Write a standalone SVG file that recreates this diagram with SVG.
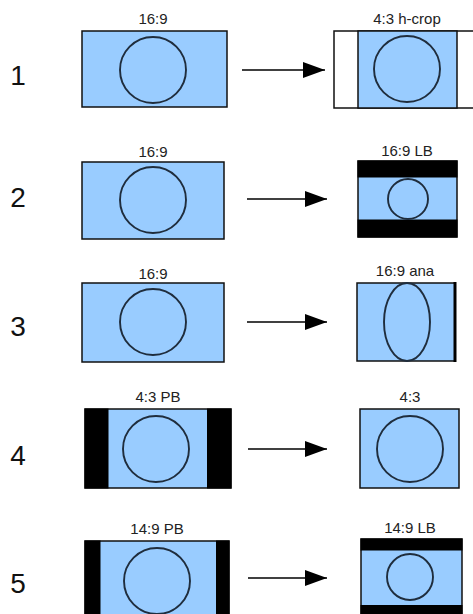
<svg xmlns="http://www.w3.org/2000/svg" width="473" height="614" viewBox="0 0 473 614">
<defs>
<style>
.bg{fill:#fff}
.blue{fill:#99ccff;stroke:#111;stroke-width:1.5}
.white{fill:#fff;stroke:#111;stroke-width:1.5}
.bar{fill:#000}
.circ{fill:none;stroke:#1f2d3d;stroke-width:1.9}
.lbl{font-family:"Liberation Sans",Arial,sans-serif;font-size:15px;fill:#222;text-anchor:middle}
.num{font-family:"Liberation Sans",Arial,sans-serif;font-size:28px;fill:#111;text-anchor:middle}
.conn{stroke:#000;stroke-width:1.6;fill:none;marker-end:url(#ah)}
</style>
<marker id="ah" markerUnits="userSpaceOnUse" markerWidth="24" markerHeight="16" refX="22" refY="8" orient="auto">
<path d="M0,0 L22,8 L0,16 Z" fill="#000"/>
</marker>
</defs>
<rect class="bg" x="0" y="0" width="473" height="614"/>

<g id="numbers">
<text class="num" x="18" y="85">1</text>
<text class="num" x="18" y="207">2</text>
<text class="num" x="18" y="336">3</text>
<text class="num" x="18" y="465">4</text>
<text class="num" x="18" y="593">5</text>
</g>

<g id="r1-src">
<text class="lbl" x="153" y="24">16:9</text>
<rect class="blue" x="82" y="31" width="145" height="76"/>
<circle class="circ" cx="153" cy="70" r="33"/>
</g>
<g id="r1-dst">
<text class="lbl" x="407" y="24">4:3 h-crop</text>
<rect class="white" x="334" y="31" width="150" height="77"/>
<rect class="blue" x="358" y="31" width="99" height="77"/>
<circle class="circ" cx="407" cy="69" r="33"/>
</g>

<g id="r2-src">
<text class="lbl" x="153" y="157">16:9</text>
<rect class="blue" x="82" y="162" width="142" height="77"/>
<circle class="circ" cx="153" cy="200" r="33"/>
</g>
<g id="r2-dst">
<text class="lbl" x="407" y="156">16:9 LB</text>
<rect class="blue" x="358" y="161" width="99" height="76"/>
<rect class="bar" x="357.5" y="160.5" width="100" height="17"/>
<rect class="bar" x="357.5" y="219.5" width="100" height="18"/>
<circle class="circ" cx="408" cy="199" r="20"/>
</g>

<g id="r3-src">
<text class="lbl" x="153" y="279">16:9</text>
<rect class="blue" x="82" y="283" width="142" height="79"/>
<circle class="circ" cx="153" cy="322" r="33"/>
</g>
<g id="r3-dst">
<text class="lbl" x="405" y="276">16:9 ana</text>
<rect class="blue" x="357" y="283" width="98" height="78"/>
<line x1="455" y1="282" x2="455" y2="362" stroke="#000" stroke-width="3"/>
<ellipse class="circ" cx="407" cy="322" rx="23" ry="39"/>
</g>

<g id="r4-src">
<text class="lbl" x="158" y="402">4:3 PB</text>
<rect class="blue" x="85" y="409" width="146" height="79"/>
<rect class="bar" x="84.5" y="408.5" width="24" height="80"/>
<rect class="bar" x="207" y="408.5" width="24.5" height="80"/>
<circle class="circ" cx="156" cy="449" r="33"/>
</g>
<g id="r4-dst">
<text class="lbl" x="410" y="402">4:3</text>
<rect class="blue" x="360" y="409" width="99" height="79"/>
<circle class="circ" cx="410" cy="449" r="33"/>
</g>

<g id="r5-src">
<text class="lbl" x="157" y="534">14:9 PB</text>
<rect class="blue" x="85" y="541" width="144" height="80"/>
<rect class="bar" x="84.5" y="540.5" width="16" height="80"/>
<rect class="bar" x="216" y="540.5" width="13.5" height="80"/>
<circle class="circ" cx="157" cy="581" r="33"/>
</g>
<g id="r5-dst">
<text class="lbl" x="410" y="533">14:9 LB</text>
<rect class="blue" x="361" y="539" width="101" height="80"/>
<rect class="bar" x="360.5" y="538.5" width="102" height="12"/>
<rect class="bar" x="360.5" y="605" width="102" height="15"/>
<circle class="circ" cx="410" cy="577" r="23"/>
</g>

<g id="connectors">
<line class="conn" x1="242" y1="70" x2="325" y2="70"/>
<line class="conn" x1="247" y1="199" x2="327" y2="199"/>
<line class="conn" x1="247" y1="322" x2="327" y2="322"/>
<line class="conn" x1="248" y1="449" x2="327" y2="449"/>
<line class="conn" x1="248" y1="578" x2="327" y2="578"/>
</g>
</svg>
